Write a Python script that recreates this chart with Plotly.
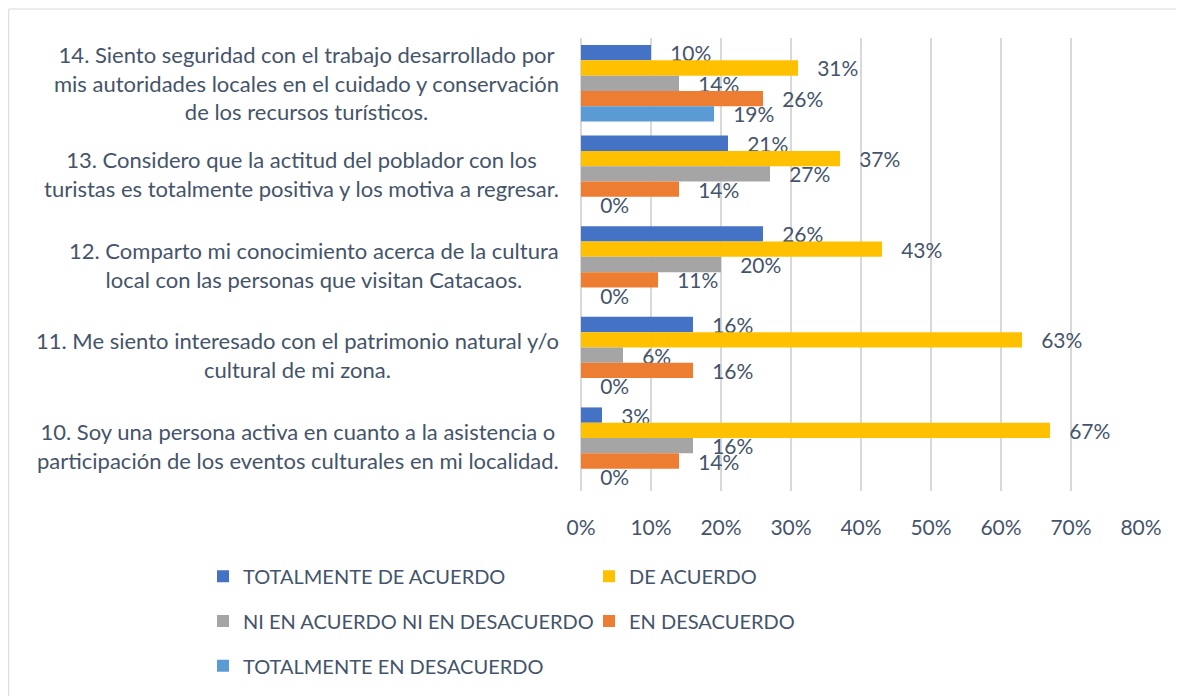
import plotly.graph_objects as go

TEXT = "#44546A"
GRID = "#D9D9D9"
FONT = "Lato"

preguntas = [
    "14. Siento seguridad con el trabajo desarrollado por<br>mis autoridades locales en el cuidado y conservación<br>de los recursos turísticos.",
    "13. Considero que la actitud del poblador con los<br>turistas es totalmente positiva y los motiva a regresar.",
    "12. Comparto mi conocimiento acerca de la cultura<br>local con las personas que visitan Catacaos.",
    "11. Me siento interesado con el patrimonio natural y/o<br>cultural de mi zona.",
    "10. Soy una persona activa en cuanto a la asistencia o<br>participación de los eventos culturales en mi localidad.",
]

totalmente_de_acuerdo = [0.10, 0.21, 0.26, 0.16, 0.03]
de_acuerdo = [0.31, 0.37, 0.43, 0.63, 0.67]
ni_acuerdo_ni_desacuerdo = [0.14, 0.27, 0.20, 0.06, 0.16]
en_desacuerdo = [0.26, 0.14, 0.11, 0.16, 0.14]
totalmente_en_desacuerdo = [0.19, 0.00, 0.00, 0.00, 0.00]

x_ticks = [0, 0.1, 0.2, 0.3, 0.4, 0.5, 0.6, 0.7, 0.8]

series = [
    ("TOTALMENTE DE ACUERDO", totalmente_de_acuerdo, "#4472C4", "legend"),
    ("DE ACUERDO", de_acuerdo, "#FFC000", "legend"),
    ("NI EN ACUERDO NI EN DESACUERDO", ni_acuerdo_ni_desacuerdo, "#A5A5A5", "legend2"),
    ("EN DESACUERDO", en_desacuerdo, "#ED7D31", "legend2"),
    ("TOTALMENTE EN DESACUERDO", totalmente_en_desacuerdo, "#5B9BD5", "legend3"),
]

fig = go.Figure()
for name, vals, color, leg in series:
    fig.add_trace(go.Bar(
        x=vals, y=preguntas, orientation="h", name=name,
        marker_color=color, marker_line_width=0,
        texttemplate="\u00a0\u00a0\u00a0%{x:.0%}", textposition="outside",
        textfont=dict(color=TEXT, size=21, family=FONT),
        constraintext="none", cliponaxis=False,
        legend=leg,
    ))

# question labels, centred line by line like the original
for q in preguntas:
    fig.add_annotation(
        x=-0.036, xref="paper", xanchor="right",
        y=q, yref="y", yanchor="middle",
        text=q, showarrow=False, align="center",
        font=dict(color=TEXT, size=22, family=FONT),
    )

# light frame around the whole chart
fig.add_shape(type="rect", xref="paper", yref="paper",
              x0=-1.022, x1=1.2, y0=-0.6, y1=1.064,
              line=dict(color=GRID, width=1))

leg_common = dict(orientation="h", x=-0.675, xanchor="left", yanchor="middle",
                  entrywidth=341, font=dict(color=TEXT, size=20, family=FONT),
                  bgcolor="rgba(0,0,0,0)")

fig.update_layout(
    width=1184, height=696,
    margin=dict(l=573, r=51, t=30, b=213),
    paper_bgcolor="white", plot_bgcolor="white",
    barmode="group", bargap=0.155, bargroupgap=0,
    font=dict(family=FONT, color=TEXT),
    xaxis=dict(range=[0, 0.8], tickvals=x_ticks, tickformat=".0%",
               showgrid=True, gridcolor=GRID, gridwidth=1.5,
               zeroline=True, zerolinecolor=GRID, zerolinewidth=1.5,
               ticks="", ticklabelstandoff=22,
               tickfont=dict(size=21, color=TEXT, family=FONT)),
    yaxis=dict(autorange="reversed", showticklabels=False, showgrid=False,
               ticks=""),
    legend=dict(**leg_common, y=-0.188),
    legend2=dict(**leg_common, y=-0.287),
    legend3=dict(**leg_common, y=-0.386),
)

fig.write_html("out.html")
